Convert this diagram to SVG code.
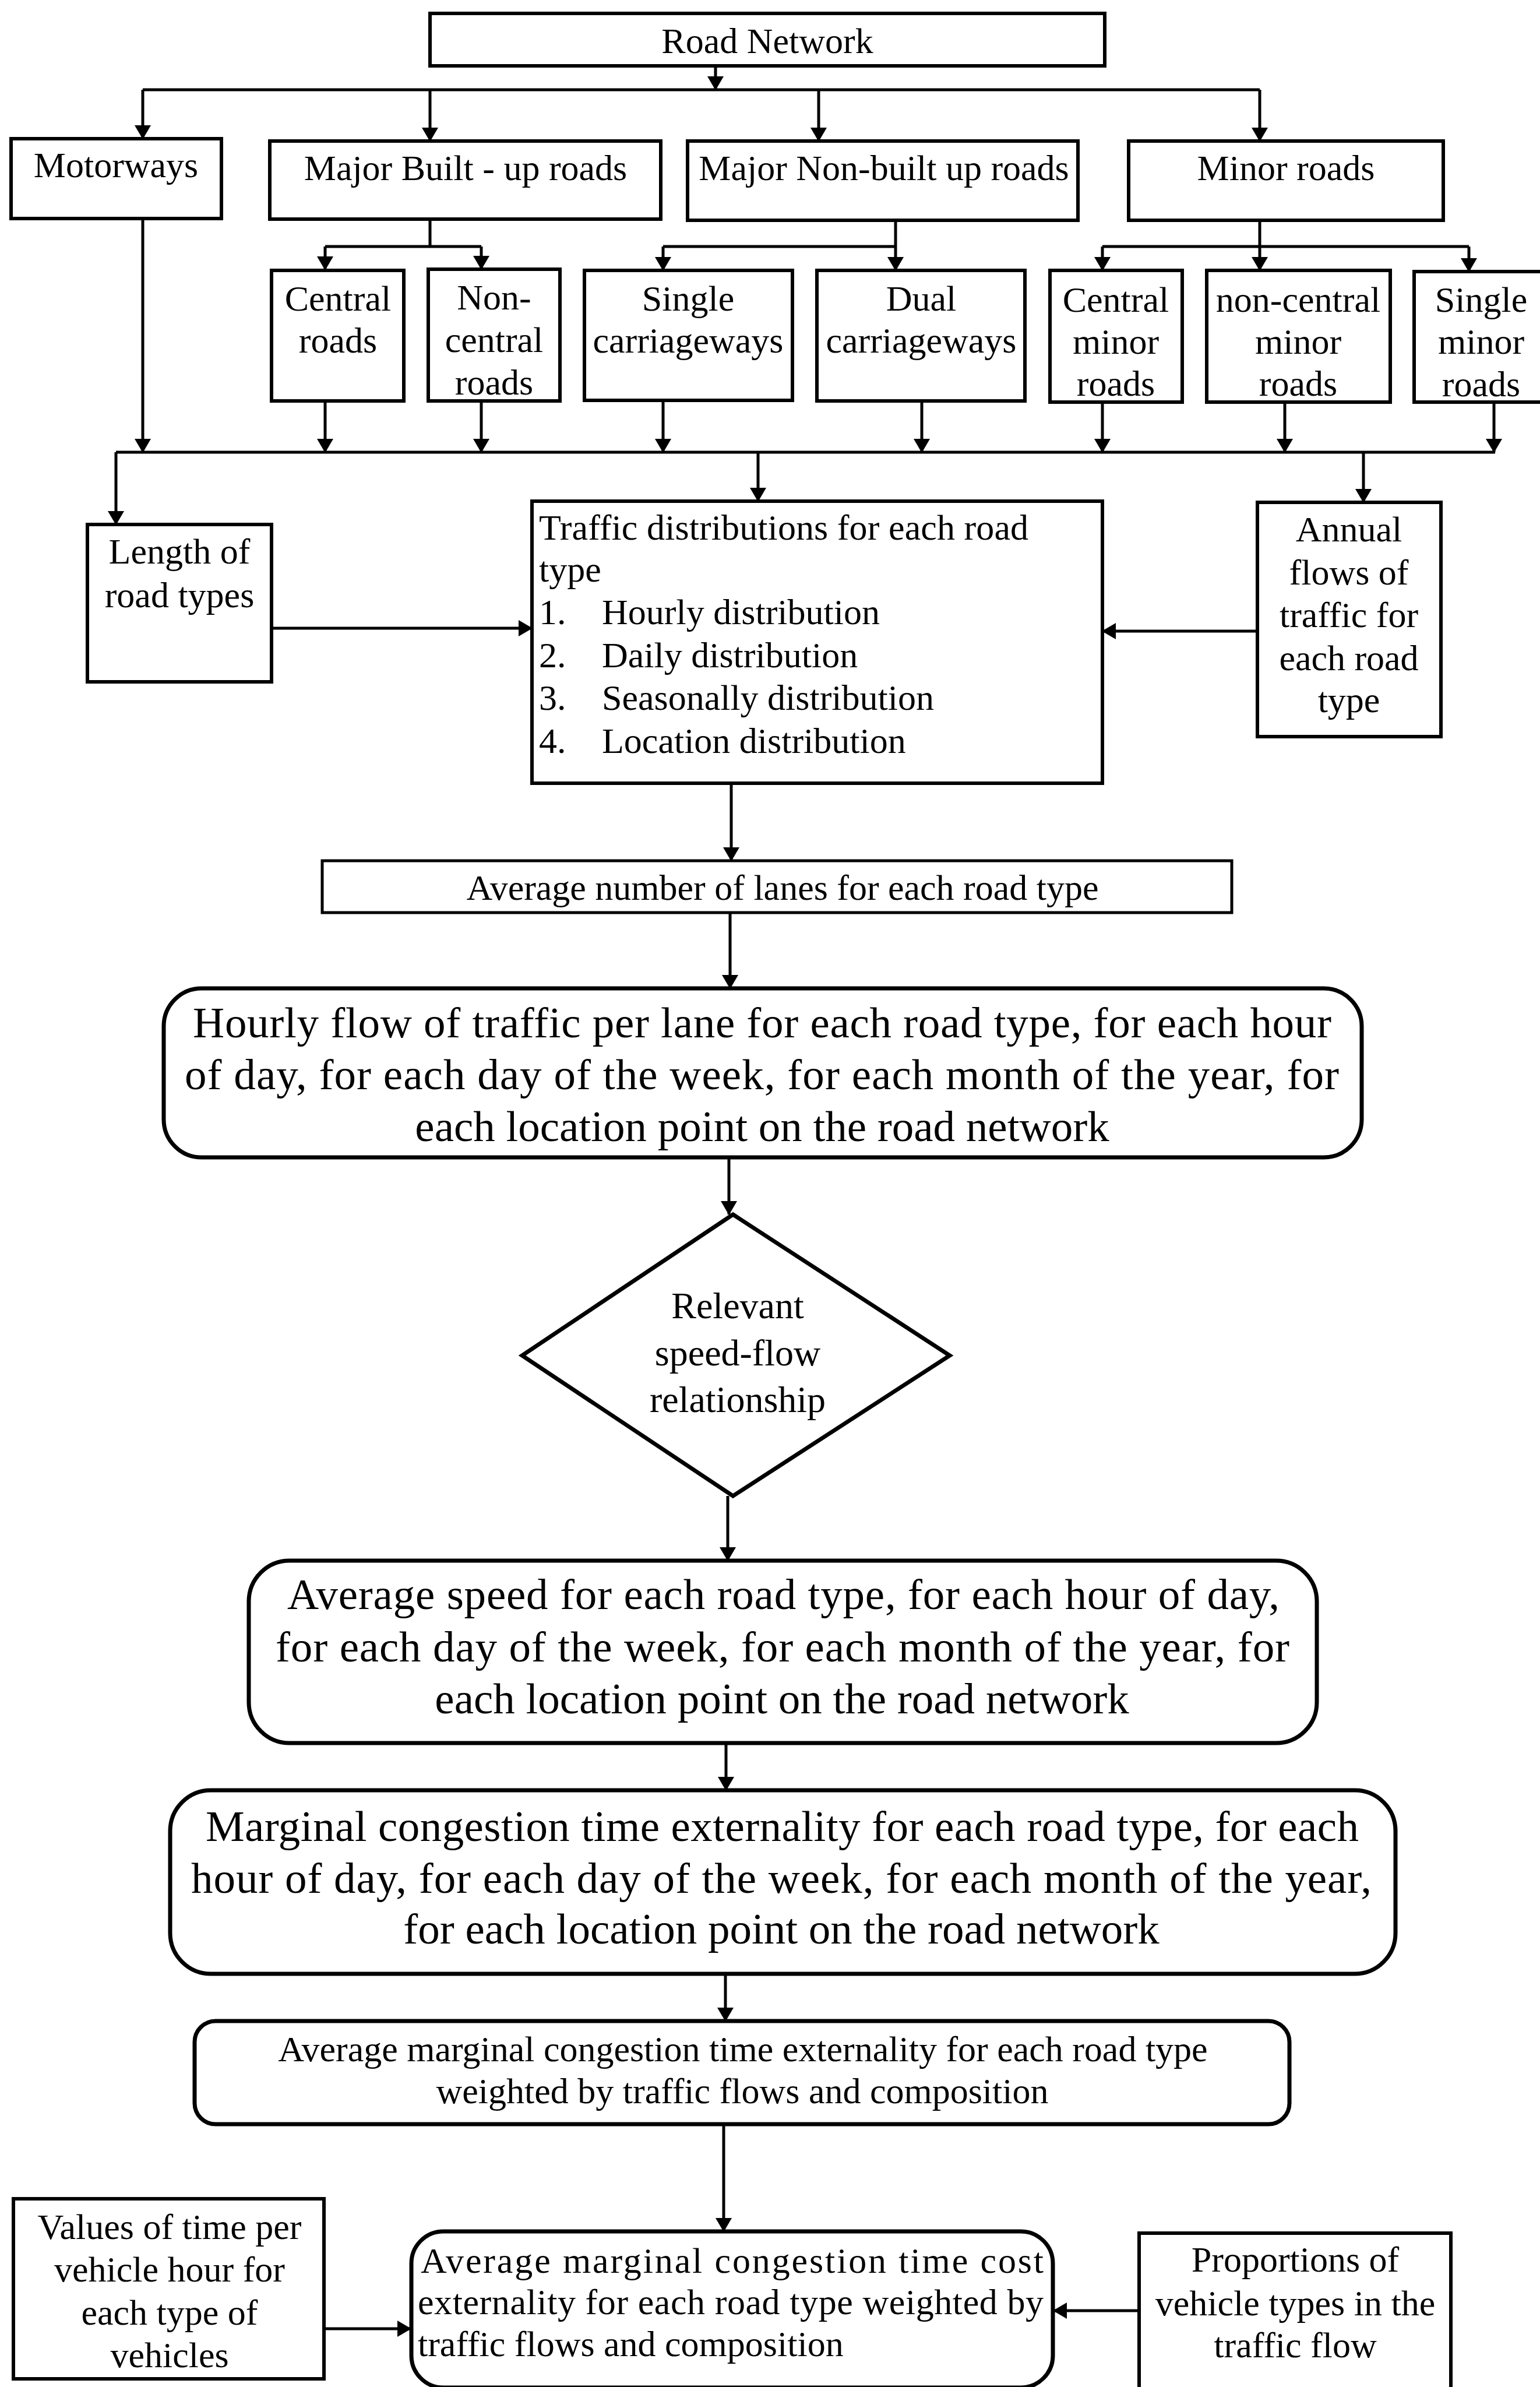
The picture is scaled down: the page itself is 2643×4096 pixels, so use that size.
<svg xmlns="http://www.w3.org/2000/svg" width="2643" height="4096" viewBox="0 0 2643 4096">
<style>
.b{fill:#fff;stroke:#000;stroke-width:6}
.r{fill:#fff;stroke:#000;stroke-width:7}
.c{fill:none;stroke:#000;stroke-width:5}
.a{fill:none;stroke:#000;stroke-width:5;marker-end:url(#ah)}
text{font-family:"Liberation Serif","Times New Roman",serif;font-size:62px;fill:#000}
.m{text-anchor:middle}
.L{font-size:75px}
.D{font-size:64px}
</style>
<defs>
<marker id="ah" markerUnits="userSpaceOnUse" markerWidth="24" markerHeight="28" viewBox="0 0 24 28" refX="23" refY="14" orient="auto">
<path d="M0,0 L24,14 L0,28 Z" fill="#000"/>
</marker>
</defs>
<rect width="2643" height="4096" fill="#fff"/>
<g id="connectors">
<path class="a" d="M1228,113 V154"/>
<path class="c" d="M245,154 H2162"/>
<path class="a" d="M245,154 V238"/>
<path class="a" d="M738,154 V242"/>
<path class="a" d="M1405,154 V242"/>
<path class="a" d="M2162,154 V242"/>
<path class="c" d="M738,376 V423 M558,423 H826"/>
<path class="a" d="M558,423 V463"/>
<path class="a" d="M826,423 V462"/>
<path class="c" d="M1537,378 V423 M1138,423 H1537"/>
<path class="a" d="M1138,423 V464"/>
<path class="a" d="M1537,423 V464"/>
<path class="c" d="M2162,378 V423 M1892,423 H2521"/>
<path class="a" d="M1892,423 V464"/>
<path class="a" d="M2162,423 V464"/>
<path class="a" d="M2521,423 V466"/>
<path class="a" d="M245,375 V776"/>
<path class="a" d="M558,688 V776"/>
<path class="a" d="M826,688 V776"/>
<path class="a" d="M1138,687 V776"/>
<path class="a" d="M1582,688 V776"/>
<path class="a" d="M1892,690 V776"/>
<path class="a" d="M2205,690 V776"/>
<path class="a" d="M2564,690 V776"/>
<path class="c" d="M199,776 H2566"/>
<path class="a" d="M199,776 V900"/>
<path class="a" d="M1301,776 V860"/>
<path class="a" d="M2340,776 V862"/>
<path class="a" d="M466,1078 H913"/>
<path class="a" d="M2158,1083 H1892"/>
<path class="a" d="M1255,1344 V1477"/>
<path class="a" d="M1253,1566 V1696"/>
<path class="a" d="M1251,1986 V2084"/>
<path class="a" d="M1249,2567 V2678"/>
<path class="a" d="M1246,2991 V3072"/>
<path class="a" d="M1245,3387 V3468"/>
<path class="a" d="M1242,3645 V3829"/>
<path class="a" d="M556,3996 H705"/>
<path class="a" d="M1955,3965 H1808"/>
</g>
<g id="road-network"><rect class="b" x="738" y="23" width="1158" height="90"/><text class="m" x="1317" y="91">Road Network</text></g>
<g id="motorways"><rect class="b" x="19" y="238" width="361" height="137"/><text class="m" x="199" y="304">Motorways</text></g>
<g id="major-built-up"><rect class="b" x="463" y="242" width="671" height="134"/><text class="m" x="799" y="309">Major Built - up roads</text></g>
<g id="major-non-built-up"><rect class="b" x="1180" y="242" width="670" height="136"/><text class="m" x="1517" y="309">Major Non-built up roads</text></g>
<g id="minor-roads"><rect class="b" x="1937" y="242" width="540" height="136"/><text class="m" x="2207" y="309">Minor roads</text></g>
<g id="central-roads"><rect class="b" x="466" y="464" width="227" height="224"/><text class="m" x="580" y="533">Central</text><text class="m" x="580" y="605">roads</text></g>
<g id="non-central-roads"><rect class="b" x="735" y="462" width="226" height="226"/><text class="m" x="848" y="531">Non-</text><text class="m" x="848" y="604">central</text><text class="m" x="848" y="677">roads</text></g>
<g id="single-carriageways"><rect class="b" x="1003" y="464" width="357" height="223"/><text class="m" x="1181" y="533">Single</text><text class="m" x="1181" y="605">carriageways</text></g>
<g id="dual-carriageways"><rect class="b" x="1402" y="464" width="357" height="224"/><text class="m" x="1581" y="533">Dual</text><text class="m" x="1581" y="605">carriageways</text></g>
<g id="central-minor-roads"><rect class="b" x="1802" y="464" width="227" height="226"/><text class="m" x="1915" y="535">Central</text><text class="m" x="1915" y="607">minor</text><text class="m" x="1915" y="679">roads</text></g>
<g id="non-central-minor-roads"><rect class="b" x="2071" y="464" width="315" height="226"/><text class="m" x="2228" y="535">non-central</text><text class="m" x="2228" y="607">minor</text><text class="m" x="2228" y="679">roads</text></g>
<g id="single-minor-roads"><rect class="b" x="2427" y="466" width="240" height="224"/><text class="m" x="2542" y="535">Single</text><text class="m" x="2542" y="607">minor</text><text class="m" x="2542" y="680">roads</text></g>
<g id="length-of-road-types"><rect class="b" x="150" y="900" width="316" height="270"/><text class="m" x="308" y="967">Length of</text><text class="m" x="308" y="1042">road types</text></g>
<g id="traffic-distributions"><rect class="b" x="913" y="860" width="979" height="484"/>
<text x="925" y="926" textLength="840" lengthAdjust="spacing">Traffic distributions for each road</text>
<text x="925" y="998">type</text>
<text x="925" y="1071">1.</text><text x="1033" y="1071">Hourly distribution</text>
<text x="925" y="1145">2.</text><text x="1033" y="1145">Daily distribution</text>
<text x="925" y="1218">3.</text><text x="1033" y="1218">Seasonally distribution</text>
<text x="925" y="1292">4.</text><text x="1033" y="1292">Location distribution</text></g>
<g id="annual-flows"><rect class="b" x="2158" y="862" width="315" height="402"/><text class="m" x="2315" y="929">Annual</text><text class="m" x="2315" y="1003">flows of</text><text class="m" x="2315" y="1076">traffic for</text><text class="m" x="2315" y="1150">each road</text><text class="m" x="2315" y="1222">type</text></g>
<g id="average-lanes"><rect class="b" x="553" y="1477" width="1561" height="89" style="stroke-width:5"/><text class="m" x="1343" y="1544">Average number of lanes for each road type</text></g>
<g id="hourly-flow"><rect class="r" x="281" y="1696" width="2056" height="290" rx="65"/>
<text class="L" x="331" y="1780" textLength="1954" lengthAdjust="spacing">Hourly flow of traffic per lane for each road type, for each hour</text>
<text class="L" x="317" y="1869" textLength="1981" lengthAdjust="spacing">of day, for each day of the week, for each month of the year, for</text>
<text class="L m" x="1308" y="1958">each location point on the road network</text></g>
<g id="speed-flow"><polygon class="r" points="1258,2084 1630,2326 1258,2567 896,2326"/>
<text class="D m" x="1266" y="2262">Relevant</text><text class="D m" x="1266" y="2343">speed-flow</text><text class="D m" x="1266" y="2423">relationship</text></g>
<g id="average-speed"><rect class="r" x="427" y="2678" width="1833" height="313" rx="70"/>
<text class="L" x="493" y="2761" textLength="1703" lengthAdjust="spacing">Average speed for each road type, for each hour of day,</text>
<text class="L" x="473" y="2851" textLength="1740" lengthAdjust="spacing">for each day of the week, for each month of the year, for</text>
<text class="L m" x="1342" y="2940">each location point on the road network</text></g>
<g id="marginal-congestion"><rect class="r" x="292" y="3072" width="2103" height="315" rx="70"/>
<text class="L" x="353" y="3159" textLength="1979" lengthAdjust="spacing">Marginal congestion time externality for each road type, for each</text>
<text class="L" x="328" y="3248" textLength="2026" lengthAdjust="spacing">hour of day, for each day of the week, for each month of the year,</text>
<text class="L m" x="1341" y="3335">for each location point on the road network</text></g>
<g id="average-marginal"><rect class="r" x="334" y="3468" width="1879" height="177" rx="36"/>
<text class="m" x="1275" y="3537">Average marginal congestion time externality for each road type</text>
<text class="m" x="1274" y="3609">weighted by traffic flows and composition</text></g>
<g id="values-of-time"><rect class="b" x="23" y="3773" width="533" height="309"/><text class="m" x="291" y="3842">Values of time per</text><text class="m" x="291" y="3915">vehicle hour for</text><text class="m" x="291" y="3989">each type of</text><text class="m" x="291" y="4062">vehicles</text></g>
<g id="average-cost"><rect class="r" x="706" y="3829" width="1101" height="268" rx="55"/>
<text x="722" y="3900" textLength="1069" lengthAdjust="spacing">Average  marginal  congestion  time  cost</text>
<text x="717" y="3971" textLength="1074" lengthAdjust="spacing">externality for each road type weighted by</text>
<text x="717" y="4043">traffic flows and composition</text></g>
<g id="proportions"><rect class="b" x="1955" y="3832" width="535" height="290"/><text class="m" x="2223" y="3898">Proportions of</text><text class="m" x="2223" y="3973">vehicle types in the</text><text class="m" x="2223" y="4045">traffic flow</text></g>
</svg>
